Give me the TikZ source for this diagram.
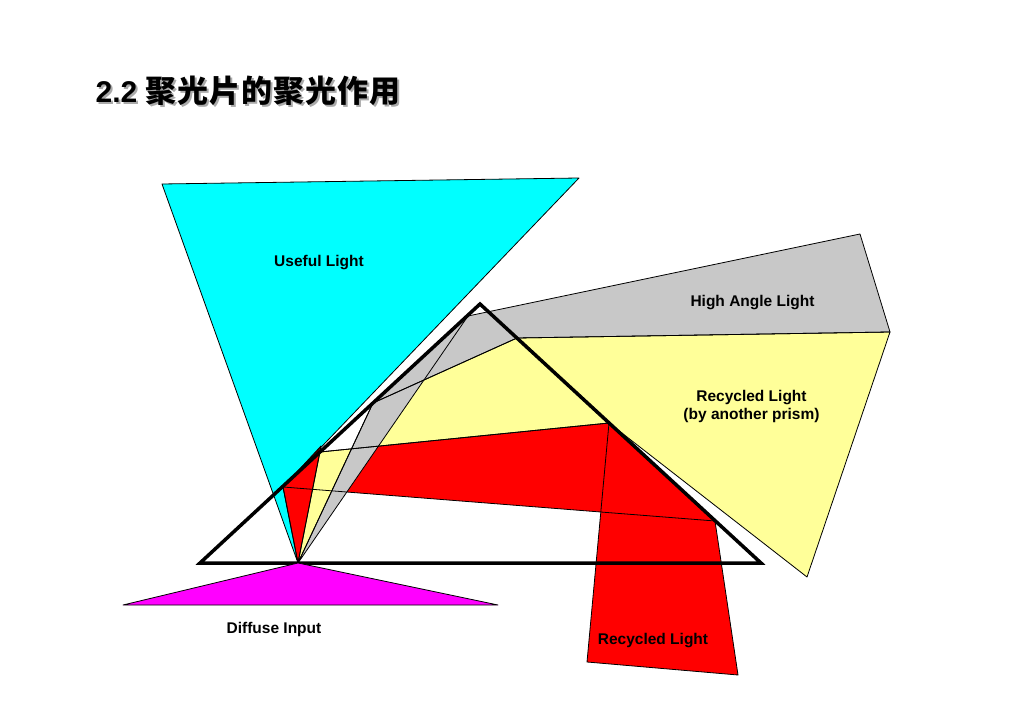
\documentclass[tikz,border=0pt]{standalone}
\usepackage{fontspec}
\setmainfont{Liberation Sans}
\newfontfamily\cjk[LetterSpace=3]{Noto Sans CJK SC}
\definecolor{cyanL}{RGB}{0,255,255}
\definecolor{redL}{RGB}{255,0,0}
\definecolor{yellowL}{RGB}{255,255,153}
\definecolor{grayL}{RGB}{200,200,200}
\definecolor{magentaL}{RGB}{255,0,255}
\definecolor{shadowL}{RGB}{170,170,170}
\begin{document}
\begin{tikzpicture}[x=1pt,y=-1pt,
  thinline/.style={draw=black,line width=0.8pt,line join=round},
  prismline/.style={draw=black,line width=3.5pt,line join=miter},
  lbl/.style={font=\fontsize{15.5}{18}\selectfont\bfseries,inner sep=0pt,anchor=base}]
\useasboundingbox (0,0) rectangle (1023,708);
% key points
\coordinate (A) at (298,563);
\coordinate (P1) at (200,563);
\coordinate (P2) at (480,304);
\coordinate (P3) at (761,563);
\coordinate (C1) at (162,184);
\coordinate (C2) at (579,178);
\coordinate (C3) at (283,487);
\coordinate (R2) at (321,446);
\coordinate (B1) at (320,452);
\coordinate (B2) at (609,423);
\coordinate (B3) at (715,521);
\coordinate (L1) at (738,675);
\coordinate (L2) at (587,662);
\coordinate (Y1) at (373,403);
\coordinate (Y2) at (517,338);
\coordinate (Y3) at (890,332);
\coordinate (Y4) at (807,577);
\coordinate (G1) at (468,316);
\coordinate (G2) at (860,234);
\coordinate (M1) at (123,605);
\coordinate (M2) at (498,605);
% fills
\fill[cyanL] (C1) -- (C2) -- (C3) -- (A) -- cycle;
\fill[redL] (C3) -- (B1) -- (B2) -- (B3) -- cycle;
\fill[redL] (B2) -- (B3) -- (L1) -- (L2) -- cycle;
\fill[redL] (A) -- (C3) -- (R2) -- cycle;
\fill[yellowL] (A) -- (Y1) -- (Y2) -- (Y3) -- (Y4) -- (B2) -- (B1) -- cycle;
\fill[grayL] (A) -- (Y1) -- (G1) -- cycle;
\fill[grayL] (Y1) -- (G1) -- (G2) -- (Y3) -- (Y2) -- cycle;
% outlines
\draw[thinline] (C1) -- (C2) -- (C3) -- (A) -- cycle;
\draw[thinline] (C3) -- (B1) -- (B2) -- (B3) -- cycle;
\draw[thinline] (B2) -- (B3) -- (L1) -- (L2) -- cycle;
\draw[thinline] (A) -- (C3) -- (R2) -- cycle;
\draw[thinline] (A) -- (Y1) -- (Y2) -- (Y3) -- (Y4) -- (B2) -- (B1) -- cycle;
\draw[thinline] (A) -- (Y1) -- (G1) -- cycle;
\draw[thinline] (Y1) -- (G1) -- (G2) -- (Y3) -- (Y2) -- cycle;
% prism
\draw[prismline] (P1) -- (P2) -- (P3) -- cycle;
% diffuse input
\filldraw[fill=magentaL,thinline] (A) -- (M1) -- (M2) -- cycle;
% labels
\node[lbl] (useful) at (319,267) {Useful Light};
\node[lbl] (high) at (752.5,307) {High Angle Light};
\node[lbl] (rec1) at (751.5,401.5) {Recycled Light};
\node[lbl] (rec2) at (751.5,419.5) {(by another prism)};
\node[lbl] (diffuse) at (274,633) {Diffuse Input};
\node[lbl] (rec3) at (653,644.5) {Recycled Light};
% title with shadow
\node[anchor=base west,inner sep=0pt,text=shadowL] (titleshadow) at (97.5,104.7)
  {\fontsize{30}{36}\selectfont\bfseries 2.2 {\cjk\fontsize{31}{36}\selectfont 聚光片的聚光作用}};
\node[anchor=base west,inner sep=0pt] (title) at (95.5,102.7)
  {\fontsize{30}{36}\selectfont\bfseries 2.2 {\cjk\fontsize{31}{36}\selectfont 聚光片的聚光作用}};
\end{tikzpicture}
\end{document}
